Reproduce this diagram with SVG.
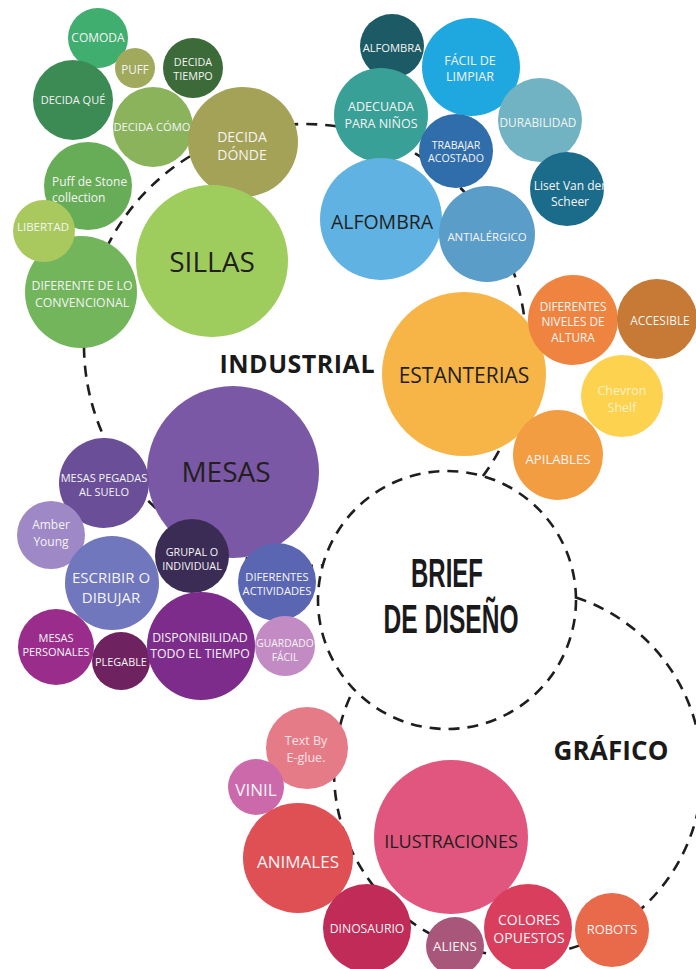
<svg xmlns="http://www.w3.org/2000/svg" width="696" height="969" viewBox="0 0 696 969">
<style>
text{font-family:"Open Sans","Liberation Sans",sans-serif;text-anchor:middle;fill:#f4f4f4}
.dk{fill:#231f20}
.hd{font-weight:700;fill:#1a1a1a}
.br{font-family:"Liberation Sans","DejaVu Sans",sans-serif;font-weight:700;fill:#1a1a1a}
.dash{fill:none;stroke:#1e1e1e;stroke-width:2.6;stroke-dasharray:11 8}
</style>
<rect width="696" height="969" fill="#ffffff"/>
<g id="connectors">
<path class="dash" d="M 482.9 476.1 A 221 221 0 1 0 322.7 565.3"/>
<circle class="dash" cx="447" cy="600" r="129"/>
<path class="dash" d="M 575.9 597.4 A 184 184 0 1 1 353.8 689.1"/>
</g>
<g id="labels">
<text class="hd" x="297" y="373" font-size="25" textLength="155">INDUSTRIAL</text>
<text class="hd" x="611" y="760" font-size="26" textLength="115">GRÁFICO</text>
<text class="br" x="447" y="587" font-size="40" textLength="72" lengthAdjust="spacingAndGlyphs">BRIEF</text>
<text class="br" x="451" y="633" font-size="40" textLength="135" lengthAdjust="spacingAndGlyphs">DE DISEÑO</text>
</g>
<g id="comoda"><circle cx="98" cy="38" r="30" fill="#3fae6e"/><text x="98" y="41.5" font-size="12">COMODA</text></g>
<g id="decida-que"><circle cx="73" cy="100" r="40" fill="#3c8b55"/><text x="73" y="104" font-size="11">DECIDA QUÉ</text></g>
<g id="puff"><circle cx="135" cy="68" r="20" fill="#a0a95c"/><text x="135" y="74" font-size="11.7">PUFF</text></g>
<g id="decida-tiempo"><circle cx="193" cy="68" r="30" fill="#3c6a39"/><text font-size="10.8"><tspan x="193" y="66">DECIDA</tspan><tspan x="193" y="80.2">TIEMPO</tspan></text></g>
<g id="decida-como"><circle cx="153" cy="127" r="40" fill="#8ab35c"/><text x="152" y="131" font-size="11.2">DECIDA CÓMO</text></g>
<g id="decida-donde"><circle cx="243" cy="142" r="55" fill="#a4a257"/><text font-size="14"><tspan x="242" y="141.5">DECIDA</tspan><tspan x="242" y="160">DÓNDE</tspan></text></g>
<g id="puff-stone"><circle cx="88" cy="186" r="44" fill="#67ad58"/><text font-size="12" style="text-anchor:start"><tspan x="52" y="186">Puff de Stone</tspan><tspan x="52" y="201.6">collection</tspan></text></g>
<g id="diferente"><circle cx="81" cy="292" r="56" fill="#72b55b"/><text font-size="12.3"><tspan x="82" y="289.5">DIFERENTE DE LO</tspan><tspan x="82" y="306.5">CONVENCIONAL</tspan></text></g>
<g id="libertad"><circle cx="44" cy="231" r="31" fill="#a9c95f"/><text x="43" y="231" font-size="11.5">LIBERTAD</text></g>
<g id="sillas"><circle cx="212" cy="261" r="76" fill="#9ecd5e"/><text class="dk" x="212" y="272" font-size="28">SILLAS</text></g>
<g id="alfombra-s"><circle cx="392" cy="46" r="32" fill="#1c5a66"/><text x="392" y="52" font-size="11.2">ALFOMBRA</text></g>
<g id="facil"><circle cx="471" cy="67" r="49" fill="#1fa8e0"/><text font-size="12.5"><tspan x="470" y="64.8">FÁCIL DE</tspan><tspan x="470" y="81.1">LIMPIAR</tspan></text></g>
<g id="adecuada"><circle cx="381" cy="115" r="47" fill="#38a096"/><text font-size="12.5"><tspan x="381" y="111.3">ADECUADA</tspan><tspan x="381" y="127.6">PARA NIÑOS</tspan></text></g>
<g id="durabilidad"><circle cx="540" cy="120" r="42" fill="#71b3c2"/><text x="538" y="127" font-size="11.8">DURABILIDAD</text></g>
<g id="trabajar"><circle cx="456" cy="151" r="37" fill="#2f6dab"/><text font-size="10.6"><tspan x="456" y="148.6">TRABAJAR</tspan><tspan x="456" y="162.4">ACOSTADO</tspan></text></g>
<g id="liset"><circle cx="567" cy="189" r="37" fill="#1b6b8b"/><text font-size="12"><tspan x="570" y="190">Liset Van der</tspan><tspan x="570" y="206">Scheer</tspan></text></g>
<g id="alfombra"><circle cx="381" cy="219" r="61" fill="#5fb2e2"/><text class="dk" x="382" y="229" font-size="19.5">ALFOMBRA</text></g>
<g id="antialergico"><circle cx="487" cy="234" r="48" fill="#5b9dc9"/><text x="487" y="241" font-size="11.4">ANTIALÉRGICO</text></g>
<g id="estanterias"><circle cx="464" cy="374" r="82" fill="#f7b548"/><text class="dk" x="464" y="383" font-size="21">ESTANTERIAS</text></g>
<g id="niveles"><circle cx="573" cy="320" r="45" fill="#ee8440"/><text font-size="11.8"><tspan x="573" y="311">DIFERENTES</tspan><tspan x="573" y="326.4">NIVELES DE</tspan><tspan x="573" y="341.8">ALTURA</tspan></text></g>
<g id="accesible"><circle cx="657" cy="319" r="40" fill="#c67a35"/><text x="660" y="325" font-size="11.9">ACCESIBLE</text></g>
<g id="chevron"><circle cx="622" cy="396" r="41" fill="#fcd24e"/><text font-size="12.5" style="fill:#fdf1c6"><tspan x="622" y="395.3">Chevron</tspan><tspan x="622" y="411.6">Shelf</tspan></text></g>
<g id="apilables"><circle cx="558" cy="455" r="45" fill="#f39d43"/><text x="558" y="464" font-size="13.2">APILABLES</text></g>
<g id="mesas"><circle cx="233" cy="472" r="86" fill="#7a58a5"/><text class="dk" x="226" y="482" font-size="28">MESAS</text></g>
<g id="pegadas"><circle cx="104" cy="483" r="45" fill="#6a4f98"/><text font-size="11"><tspan x="104" y="481.8">MESAS PEGADAS</tspan><tspan x="104" y="496.1">AL SUELO</tspan></text></g>
<g id="amber"><circle cx="51" cy="535" r="34" fill="#9e88c5"/><text font-size="12"><tspan x="51" y="529">Amber</tspan><tspan x="51" y="546">Young</tspan></text></g>
<g id="escribir"><circle cx="112" cy="583" r="47" fill="#7077bc"/><text font-size="15"><tspan x="111" y="583.3">ESCRIBIR O</tspan><tspan x="111" y="602.8">DIBUJAR</tspan></text></g>
<g id="grupal"><circle cx="192" cy="556" r="37" fill="#3b2c55"/><text font-size="10.8"><tspan x="192" y="555.5">GRUPAL O</tspan><tspan x="192" y="569.5">INDIVIDUAL</tspan></text></g>
<g id="actividades"><circle cx="277" cy="582" r="39" fill="#5a66b2"/><text font-size="11.2"><tspan x="277" y="580.7">DIFERENTES</tspan><tspan x="277" y="595.3">ACTIVIDADES</tspan></text></g>
<g id="personales"><circle cx="56" cy="647" r="38" fill="#9a2c8c"/><text font-size="11"><tspan x="56" y="641.8">MESAS</tspan><tspan x="56" y="656.1">PERSONALES</tspan></text></g>
<g id="plegable"><circle cx="121" cy="661" r="29" fill="#6e2360"/><text x="121" y="666" font-size="10.9">PLEGABLE</text></g>
<g id="disponibilidad"><circle cx="201" cy="646" r="54" fill="#7e2c8b"/><text font-size="12.3"><tspan x="200" y="641.5">DISPONIBILIDAD</tspan><tspan x="200" y="657.5">TODO EL TIEMPO</tspan></text></g>
<g id="guardado"><circle cx="285" cy="646" r="30" fill="#c38bc4"/><text font-size="10.3"><tspan x="285" y="647">GUARDADO</tspan><tspan x="285" y="661">FÁCIL</tspan></text></g>
<g id="textby"><circle cx="307" cy="748" r="41" fill="#e67b88"/><text font-size="12.5" style="fill:#f9e2e5"><tspan x="306" y="745.3">Text By</tspan><tspan x="306" y="761.6">E-glue.</tspan></text></g>
<g id="vinil"><circle cx="256" cy="787" r="28" fill="#cc69ab"/><text x="256" y="796" font-size="17">VINIL</text></g>
<g id="animales"><circle cx="298" cy="858" r="55" fill="#df5055"/><text x="298" y="868" font-size="17">ANIMALES</text></g>
<g id="ilustraciones"><circle cx="451" cy="837" r="77" fill="#e0567e"/><text class="dk" x="451" y="848" font-size="18">ILUSTRACIONES</text></g>
<g id="dinosaurio"><circle cx="367" cy="928" r="44" fill="#c02b58"/><text x="367" y="932.5" font-size="12.2">DINOSAURIO</text></g>
<g id="aliens"><circle cx="455" cy="946" r="29" fill="#a8577a"/><text x="455" y="951" font-size="13.3">ALIENS</text></g>
<g id="colores"><circle cx="528" cy="928" r="44" fill="#d93e5c"/><text font-size="14"><tspan x="529" y="924.9">COLORES</tspan><tspan x="529" y="943.1">OPUESTOS</tspan></text></g>
<g id="robots"><circle cx="612" cy="930" r="37" fill="#e9694b"/><text x="612" y="934" font-size="12.9">ROBOTS</text></g>
</svg>
